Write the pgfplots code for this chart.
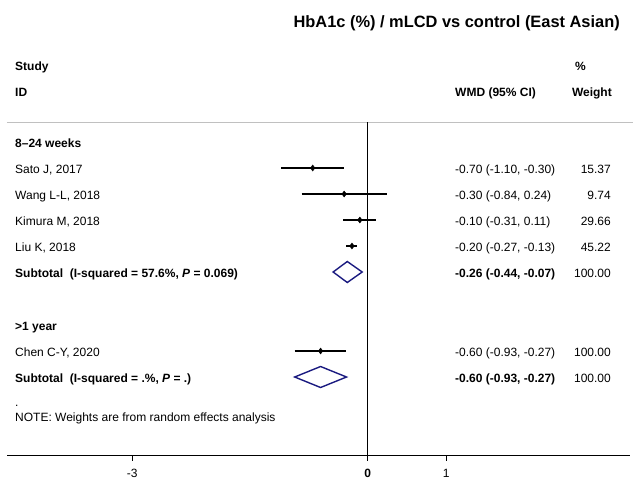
\documentclass[border=0pt]{standalone}
\usepackage{pgfplots}
\pgfplotsset{compat=1.18}
\usepackage{fontspec}
\setmainfont{Liberation Sans}
\definecolor{dnavy}{RGB}{26,26,128}
\definecolor{lgrey}{RGB}{192,192,192}
\newcommand{\tf}{\fontsize{12bp}{14bp}\selectfont}
\begin{document}
\begin{tikzpicture}
\useasboundingbox (0,0) rectangle (633bp,480bp);
\begin{axis}[at={(0,0)}, anchor=south west, width=633bp, height=480bp,
  scale only axis, xmin=-4.684, xmax=3.380, ymin=0, ymax=480, y dir=reverse,
  hide axis, clip=false]
 % top rule
 \addplot[lgrey, line width=1bp] coordinates {(-4.595,122) (3.38,122)};
 % null line
 \addplot[black, line width=0.9bp] coordinates {(0,122) (0,456)};
 % confidence intervals
 \addplot[black, line width=1.4bp] coordinates {(-1.10,168) (-0.30,168)};
 \addplot[black, line width=1.4bp] coordinates {(-0.84,194) (0.24,194)};
 \addplot[black, line width=1.4bp] coordinates {(-0.31,220) (0.11,220)};
 \addplot[black, line width=1.4bp] coordinates {(-0.27,246) (-0.13,246)};
 \addplot[black, line width=1.4bp] coordinates {(-0.93,351) (-0.27,351)};
 % point estimates
 \addplot[only marks, mark=diamond*, mark size=3bp, black] table {
 x y
 -0.70 168
 -0.30 194
 -0.10 220
 -0.20 246
 -0.60 351
 };
 % pooled diamonds
 \addplot[dnavy, line width=1.4bp, line join=miter] coordinates
   {(-0.44,272) (-0.26,261.5) (-0.07,272) (-0.26,282.5) (-0.44,272) (-0.26,261.5)};
 \addplot[dnavy, line width=1.4bp, line join=miter] coordinates
   {(-0.93,377) (-0.60,366.5) (-0.27,377) (-0.60,387.5) (-0.93,377) (-0.60,366.5)};
\end{axis}
\begin{axis}[at={(7bp,24bp)}, anchor=south west, width=623bp, height=10bp,
  scale only axis, xmin=-4.595, xmax=3.341, ymin=0, ymax=1,
  axis x line=bottom, axis y line=none,
  axis line style={-, black, line width=1bp},
  xtick={-3,0,1}, xticklabels={-3,\textbf{0},1},
  tick align=outside, major tick length=5bp,
  tick style={black, line width=0.8bp},
  xticklabel style={font=\tf, inner sep=0pt, anchor=north, yshift=-8bp}]
\end{axis}
\begin{scope}[x=1bp, y=-1bp, shift={(0bp,480bp)}]
 \node[anchor=base east, font=\fontsize{16.4bp}{18bp}\selectfont\bfseries, inner sep=0pt] at (620,28) {HbA1c (\%) / mLCD vs control (East Asian)};
 \tf
 \node[anchor=base west, inner sep=0pt, font=\tf\bfseries] at (15,70.3) {Study};
 \node[anchor=base west, inner sep=0pt, font=\tf\bfseries] at (15,96.3) {ID};
 \node[anchor=base west, inner sep=0pt, font=\tf\bfseries] at (575,70.3) {\%};
 \node[anchor=base east, inner sep=0pt, font=\tf\bfseries] at (612,96.3) {Weight};
 \node[anchor=base west, inner sep=0pt, font=\tf\bfseries] at (455,96.3) {WMD (95\% CI)};
 \node[anchor=base west, inner sep=0pt, font=\tf\bfseries] at (15,147.3) {8–24 weeks};
 \node[anchor=base west, inner sep=0pt, font=\tf] at (15,173.3) {Sato J, 2017};
 \node[anchor=base west, inner sep=0pt, font=\tf] at (15,199.3) {Wang L-L, 2018};
 \node[anchor=base west, inner sep=0pt, font=\tf] at (15,225.3) {Kimura M, 2018};
 \node[anchor=base west, inner sep=0pt, font=\tf] at (15,251.3) {Liu K, 2018};
 \node[anchor=base west, inner sep=0pt, font=\tf\bfseries] at (15,277.3) {Subtotal\ \ (I-squared = 57.6\%, \textit{P} = 0.069)};
 \node[anchor=base west, inner sep=0pt, font=\tf\bfseries] at (15,330.3) {>1 year};
 \node[anchor=base west, inner sep=0pt, font=\tf] at (15,356.3) {Chen C-Y, 2020};
 \node[anchor=base west, inner sep=0pt, font=\tf\bfseries] at (15,382.3) {Subtotal\ \ (I-squared = .\%, \textit{P} = .)};
 \node[anchor=base west, inner sep=0pt, font=\tf] at (15,407) {.};
 \node[anchor=base west, inner sep=0pt, font=\tf] at (15,421.3) {NOTE: Weights are from random effects analysis};
 % estimates column
 \node[anchor=base west, inner sep=0pt, font=\tf] at (455,173.3) {-0.70 (-1.10, -0.30)};
 \node[anchor=base west, inner sep=0pt, font=\tf] at (455,199.3) {-0.30 (-0.84, 0.24)};
 \node[anchor=base west, inner sep=0pt, font=\tf] at (455,225.3) {-0.10 (-0.31, 0.11)};
 \node[anchor=base west, inner sep=0pt, font=\tf] at (455,251.3) {-0.20 (-0.27, -0.13)};
 \node[anchor=base west, inner sep=0pt, font=\tf\bfseries] at (455,277.3) {-0.26 (-0.44, -0.07)};
 \node[anchor=base west, inner sep=0pt, font=\tf] at (455,356.3) {-0.60 (-0.93, -0.27)};
 \node[anchor=base west, inner sep=0pt, font=\tf\bfseries] at (455,382.3) {-0.60 (-0.93, -0.27)};
 % weights column
 \node[anchor=base east, inner sep=0pt, font=\tf] at (611,173.3) {15.37};
 \node[anchor=base east, inner sep=0pt, font=\tf] at (611,199.3) {9.74};
 \node[anchor=base east, inner sep=0pt, font=\tf] at (611,225.3) {29.66};
 \node[anchor=base east, inner sep=0pt, font=\tf] at (611,251.3) {45.22};
 \node[anchor=base east, inner sep=0pt, font=\tf] at (611,277.3) {100.00};
 \node[anchor=base east, inner sep=0pt, font=\tf] at (611,356.3) {100.00};
 \node[anchor=base east, inner sep=0pt, font=\tf] at (611,382.3) {100.00};
\end{scope}
\end{tikzpicture}
\end{document}
